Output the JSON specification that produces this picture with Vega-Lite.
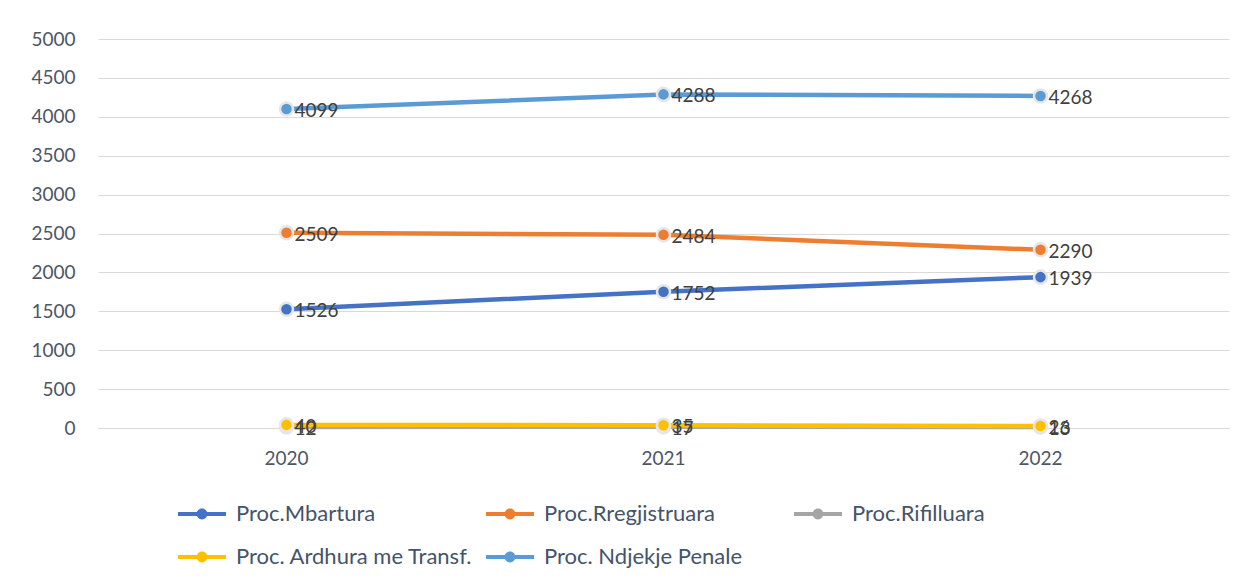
{
  "$schema": "https://vega.github.io/schema/vega-lite/v6.json",
  "width": 1131,
  "height": 389,
  "autosize": "none",
  "padding": {"left": 98, "top": 39, "right": 16, "bottom": 157},
  "background": "white",
  "config": {
    "font": "Lato",
    "view": {"stroke": null},
    "axis": {"labelFont": "Lato", "labelFontSize": 19, "labelColor": "#4D5666"}
  },
  "data": {
    "values": [
      {"series": "Proc.Mbartura", "year": "2020", "value": 1526},
      {"series": "Proc.Mbartura", "year": "2021", "value": 1752},
      {"series": "Proc.Mbartura", "year": "2022", "value": 1939},
      {"series": "Proc.Rregjistruara", "year": "2020", "value": 2509},
      {"series": "Proc.Rregjistruara", "year": "2021", "value": 2484},
      {"series": "Proc.Rregjistruara", "year": "2022", "value": 2290},
      {"series": "Proc.Rifilluara", "year": "2020", "value": 12},
      {"series": "Proc.Rifilluara", "year": "2021", "value": 17},
      {"series": "Proc.Rifilluara", "year": "2022", "value": 13},
      {"series": "Proc. Ardhura me Transf.", "year": "2020", "value": 40},
      {"series": "Proc. Ardhura me Transf.", "year": "2021", "value": 35},
      {"series": "Proc. Ardhura me Transf.", "year": "2022", "value": 26},
      {"series": "Proc. Ndjekje Penale", "year": "2020", "value": 4099},
      {"series": "Proc. Ndjekje Penale", "year": "2021", "value": 4288},
      {"series": "Proc. Ndjekje Penale", "year": "2022", "value": 4268}
    ]
  },
  "encoding": {
    "x": {
      "field": "year", "type": "ordinal", "title": null,
      "scale": {"type": "band", "paddingInner": 0, "paddingOuter": 0},
      "axis": {"labelAngle": 0, "ticks": false, "domainColor": "#D9D9D9", "labelPadding": 21, "grid": false}
    },
    "y": {
      "field": "value", "type": "quantitative", "title": null,
      "scale": {"domain": [0, 5000], "nice": false},
      "axis": {"values": [0, 500, 1000, 1500, 2000, 2500, 3000, 3500, 4000, 4500, 5000], "format": "d", "domain": false, "ticks": false, "gridColor": "#D9D9D9", "gridWidth": 1, "labelPadding": 23}
    },
    "color": {
      "field": "series", "type": "nominal", "title": null,
      "scale": {
        "domain": ["Proc.Mbartura", "Proc.Rregjistruara", "Proc.Rifilluara", "Proc. Ardhura me Transf.", "Proc. Ndjekje Penale"],
        "range": ["#4472C4", "#ED7D31", "#A5A5A5", "#FFC000", "#5B9BD5"]
      },
      "legend": {
        "orient": "none", "legendX": 92, "legendY": 463,
        "direction": "horizontal", "columns": 3, "gridAlign": "all",
        "columnPadding": 13, "rowPadding": 20,
        "symbolType": "M-2,-0.17H2V0.17H-2Z M0.45,0A0.45,0.45 0 1,1 -0.45,0A0.45,0.45 0 1,1 0.45,0Z",
        "symbolSize": 576, "symbolStrokeWidth": 0, "symbolOpacity": 1,
        "labelFont": "Lato", "labelFontSize": 22, "labelColor": "#44546A", "labelOffset": 22, "labelLimit": 400
      }
    }
  },
  "layer": [
    {"mark": {"type": "line", "strokeWidth": 4.5}, "encoding": {"detail": {"field": "series"}}},
    {"mark": {"type": "circle", "size": 170, "opacity": 1, "stroke": "#E7E6E6", "strokeWidth": 2.5}},
    {
      "mark": {"type": "text", "align": "left", "baseline": "middle", "dx": 8, "dy": 2, "fontSize": 19, "font": "Lato", "color": "#404040"},
      "encoding": {"text": {"field": "value", "type": "quantitative", "format": "d"}, "color": {"value": "#404040"}}
    }
  ]
}
